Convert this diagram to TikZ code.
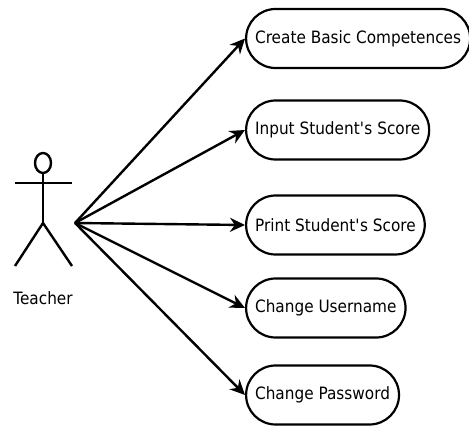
\documentclass[tikz,border=0pt]{standalone}
\usepackage{fontspec}
\setmainfont[FakeStretch=0.9]{DejaVu Sans}
\usetikzlibrary{arrows.meta, positioning}

\begin{document}
\begin{tikzpicture}[
x=1pt, y=-1pt,
texts/.style = {text=black, font=\fontsize{17pt}{20pt}\selectfont},
actorline/.style = {draw=black, line width=2.4pt},
usecase/.style = {texts, draw=black, line width=2.2pt, fill=white, rounded corners=29.5pt, minimum height=59pt, inner xsep=9pt, anchor=west},
assoc/.style = {draw=black, line width=2.4pt, -{Stealth[length=15pt, width=14pt]}}
]
\useasboundingbox (0,0) rectangle (469,427);

% actor
\draw[actorline] (43,163) ellipse [x radius=8pt, y radius=10pt];
\draw[actorline] (43,173) -- (43,223);
\draw[actorline] (15,183) -- (72,183);
\draw[actorline] (15,266) -- (43,223) -- (72,266);
\node[texts] (teacher) at (43,298) {Teacher};
\coordinate (hub) at (75,223);

\node[usecase] (competence) at (245,38.5) {Create Basic Competences};
\node[usecase] (inputscore) at (245,130) {Input Student\textquotesingle s Score};
\node[usecase] (printscore) at (245,225) {Print Student\textquotesingle s Score};
\node[usecase] (username) at (245,308) {Change Username};
\node[usecase] (password) at (245,395) {Change Password};

\draw[assoc] (hub) -- (competence.west);
\draw[assoc] (hub) -- (inputscore.west);
\draw[assoc] (hub) -- (printscore.west);
\draw[assoc] (hub) -- (username.west);
\draw[assoc] (hub) -- (password.west);
\end{tikzpicture}
\end{document}
